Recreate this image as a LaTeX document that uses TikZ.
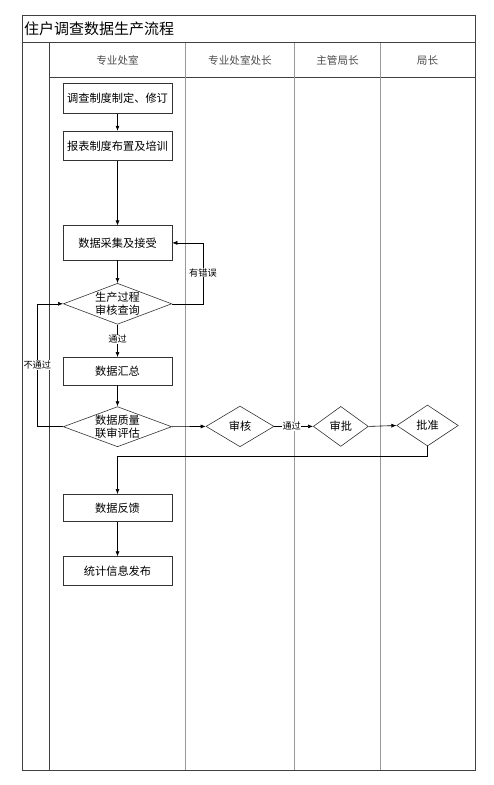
\documentclass[tikz,border=0pt]{standalone}
\usepackage{fontspec}
\setmainfont{Noto Sans CJK SC}
\usetikzlibrary{shapes.geometric,arrows.meta}
\begin{document}
\begin{tikzpicture}[x=1pt,y=-1pt,
  frame/.style={line width=0.9pt,draw=black!75},
  lane/.style={line width=0.9pt,draw=black!40},
  stepbox/.style={draw=black!80,line width=0.6pt,minimum width=109pt,minimum height=28pt,inner sep=0pt,font=\fontsize{11.2}{12}\selectfont},
  decision/.style={draw=black!80,line width=0.6pt,diamond,aspect=2.6,inner sep=0pt,font=\fontsize{11.2}{12.5}\selectfont,align=center},
  hdr/.style={font=\fontsize{10.6}{12}\selectfont,text=black!70},
  lbl/.style={font=\fontsize{9.2}{10}\selectfont,fill=white,inner sep=0.5pt},
  conn/.style={line width=0.6pt,-{Latex[length=5pt,width=4pt]}},
  plain/.style={line width=0.6pt}]
\useasboundingbox (0,0) rectangle (494,785);
% frame
\draw[frame] (22,15) rectangle (475,770);
\draw[frame] (22,42.7) -- (475,42.7);
\draw[frame] (49,42.7) -- (49,770);
\draw[frame] (49,77) -- (475,77);
\draw[lane] (185.5,42.7) -- (185.5,770);
\draw[lane] (294.5,42.7) -- (294.5,770);
\draw[lane] (380,42.7) -- (380,770);
\node[anchor=west,font=\fontsize{15}{16}\selectfont,inner sep=0pt] (title) at (24,29) {住户调查数据生产流程};
\node[hdr] (h1) at (117.5,60) {专业处室};
\node[hdr] (h2) at (240,60) {专业处室处长};
\node[hdr] (h3) at (337.5,60) {主管局长};
\node[hdr] (h4) at (427.5,60) {局长};
% nodes
\node[stepbox,minimum height=30pt] (b1) at (117.5,98.3) {调查制度制定、修订};
\node[stepbox,minimum height=29.7pt] (b2) at (117.5,145.9) {报表制度布置及培训};
\node[stepbox,minimum height=34.3pt] (b3) at (117.5,242.9) {数据采集及接受};
\node[decision,minimum width=108.4pt,minimum height=41pt] (d1) at (117.5,303.8) {生产过程\\审核查询};
\node[stepbox,minimum height=27.7pt] (b4) at (117.5,371.2) {数据汇总};
\node[decision,minimum width=108.4pt,minimum height=40pt] (d2) at (117.5,426.7) {数据质量\\联审评估};
\node[decision,minimum width=68pt,minimum height=40.7pt] (d3) at (240,426.4) {审核};
\node[decision,minimum width=55pt,minimum height=40pt] (d4) at (340.8,426.4) {审批};
\node[decision,minimum width=61.6pt,minimum height=41pt] (d5) at (427.5,425.5) {批准};
\node[stepbox,minimum height=27.4pt] (b5) at (117.5,508) {数据反馈};
\node[stepbox,minimum height=29pt] (b6) at (117.5,571.2) {统计信息发布};
% connectors
\draw[conn] (b1) -- (b2);
\draw[conn] (b2) -- (b3);
\draw[conn] (b3) -- (d1);
\coordinate (e1) at (203,303.8);
\coordinate (e2) at (203,242.9);
\draw[conn] (d1.east) -- (e1) -- (e2) -- (b3.east);
\node[lbl] (l1) at (203,272.7) {有错误};
\draw[conn] (d1) -- node[lbl,pos=0.45] (l2) {通过} (b4);
\draw[conn] (b4) -- (d2);
\coordinate (f1) at (37.3,426.7);
\coordinate (f2) at (37.3,303.8);
\draw[conn] (d2.west) -- (f1) -- (f2) -- (d1.west);
\node[lbl] (l3) at (37.3,365) {不通过};
\draw[conn] (d2.east) -- (d3.west);
\draw[conn] (d3.east) -- node[lbl,pos=0.45] (l4) {通过} (d4.west);
\draw[conn] (d4.east) -- (d5.west);
\coordinate (g1) at (427.5,456.7);
\coordinate (g2) at (117.5,456.7);
\draw[conn] (d5.south) -- (g1) -- (g2) -- (b5.north);
\draw[conn] (b5) -- (b6);
\end{tikzpicture}
\end{document}
